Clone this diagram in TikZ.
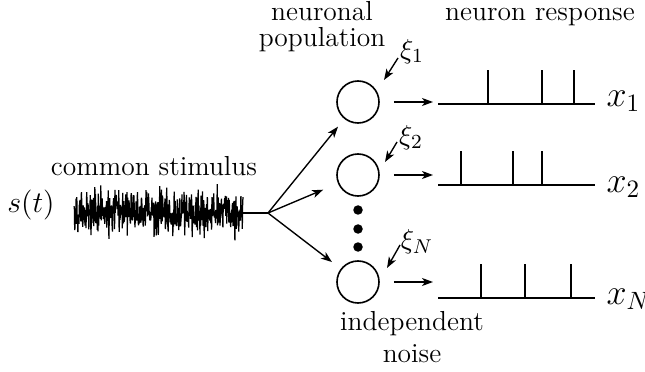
\documentclass[tikz,border=0pt]{standalone}
\usepackage{amsmath}
\usepackage{tikz}
\usetikzlibrary{arrows.meta,calc}

\begin{document}
\begin{tikzpicture}[
  x=0.4pt, y=-0.4pt,
  lbl/.style={inner sep=0pt,align=center,font=\fontsize{11}{10.4}\selectfont},
  mathlbl/.style={inner sep=0pt,font=\fontsize{14}{16}\selectfont},
  neuron/.style={draw,circle,line width=0.65pt,minimum size=16.8pt,inner sep=0pt},
  dotnode/.style={fill,circle,minimum size=3.8pt,inner sep=0pt},
  arrow/.style={-{Stealth[length=4.4pt,width=3.2pt,inset=1.2pt]},line width=0.55pt},
  train/.style={line width=0.65pt}
]
\useasboundingbox (0,0) rectangle (645,372);

% stimulus
\node[inner sep=0pt,font=\fontsize{12}{14}\selectfont] (stim) at (31,205) {$s(t)$};
\node[lbl,anchor=base] (stimtxt) at (154,176) {common stimulus};
\pgfmathsetseed{11}
\draw[line width=0.5pt,line join=bevel] plot[domain=74:243,samples=480] (\x,{213+11*(rand+rand+rand)});
\coordinate (sigend) at (243,213);
\coordinate (branch) at (268,213);
\draw[line width=0.55pt] (sigend) -- (branch);

% population
\node[lbl] (poptxt) at (322,27) {neuronal\\population};
\node[neuron] (n1) at (358,102) {};
\node[neuron] (n2) at (358,175) {};
\node[neuron] (nN) at (358,282) {};
\node[dotnode] (d1) at (358,210) {};
\node[dotnode] (d2) at (358,229) {};
\node[dotnode] (d3) at (358,247) {};
\node[lbl] (noisetxt) at (412,337) {independent\\[2.4pt]noise};

\draw[arrow,shorten >=4pt] (branch) -- (n1);
\draw[arrow,shorten >=6.4pt] (branch) -- (n2);
\draw[arrow,shorten >=4.4pt] (branch) -- (nN);

% independent noise
\node[lbl] (xi1) at (412,52) {$\xi_1$};
\node[lbl] (xi2) at (411,138) {$\xi_2$};
\node[lbl] (xiN) at (417,242) {$\xi_N$};
\draw[arrow] ([shift={(-14,6)}]xi1.center) -- ([shift={(26,-22)}]n1.center);
\draw[arrow] ([shift={(-14,4)}]xi2.center) -- ([shift={(27,-13)}]n2.center);
\draw[arrow] ([shift={(-17,3)}]xiN.center) -- ([shift={(29,-14)}]nN.center);

% responses
\node[lbl,anchor=base] (resptxt) at (540,21) {neuron response};
\coordinate (r1) at (438,104);
\coordinate (r2) at (438,185);
\coordinate (rN) at (438,298);
\draw[train] (r1) -- ++(157,0);
\draw[train] (r2) -- ++(157,0);
\draw[train] (rN) -- ++(157,0);
\foreach \s in {50,104,136} \draw[train] (r1) ++(\s,0) -- ++(0,-34);
\foreach \s in {23,75,104} \draw[train] (r2) ++(\s,0) -- ++(0,-34);
\foreach \s in {43,87,133} \draw[train] (rN) ++(\s,0) -- ++(0,-34);

\draw[arrow] ([xshift=5.6pt]n1.east) -- ([xshift=-2pt]n1 -| r1);
\draw[arrow] ([xshift=5.6pt]n2.east) -- ([xshift=-2pt]n2 -| r2);
\draw[arrow] ([xshift=5.6pt]nN.east) -- ([xshift=-2pt]nN -| rN);

\node[mathlbl,anchor=west] (x1) at (606,101) {$x_1$};
\node[mathlbl,anchor=west] (x2) at (606,187) {$x_2$};
\node[mathlbl,anchor=west] (xN) at (606,299) {$x_N$};
\end{tikzpicture}
\end{document}
